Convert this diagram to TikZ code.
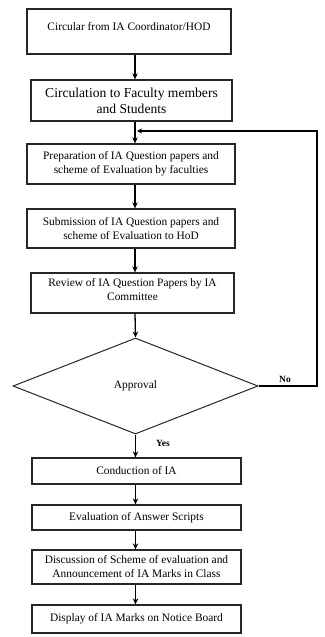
\documentclass[tikz,border=0pt]{standalone}
\usepackage{fontspec}
\setmainfont{Liberation Serif}
\usetikzlibrary{shapes.geometric,arrows.meta}
\begin{document}
\begin{tikzpicture}[x=1pt,y=-1pt,
  box/.style={draw=black!85, line width=1.3pt, rectangle, align=center, inner sep=1pt,
    font=\fontsize{11.4}{14}\selectfont},
  txt/.style={align=center, inner sep=0pt, font=\fontsize{11.4}{14}\selectfont},
  arr/.style={-{Stealth[length=6pt,width=5.5pt]}, line width=1.3pt},
  fbarr/.style={-{Stealth[length=5pt,width=5pt]}, line width=1.1pt},
  lbl/.style={inner sep=0pt, font=\fontsize{9.5}{11}\selectfont\bfseries}]
\useasboundingbox (0,0) rectangle (324,637);
\coordinate (ax) at (135,0);
% boxes
\node[box, minimum width=204pt, minimum height=45pt] (b1) at (129,31.5) {};
\node[txt] (t1) at (129,27) {Circular from IA Coordinator/HOD};
\node[box, minimum width=201pt, minimum height=41pt, font=\fontsize{13.6}{16}\selectfont] (b2) at (131.5,100.5)
  {Circulation to Faculty members\\and Students};
\node[box, minimum width=208pt, minimum height=40pt] (b3) at (131,164)
  {Preparation of IA Question papers and\\scheme of Evaluation by faculties};
\node[box, minimum width=208pt, minimum height=39pt] (b4) at (131,228.5)
  {Submission of IA Question papers and\\scheme of Evaluation to HoD};
\node[box, minimum width=203pt, minimum height=40pt] (b5) at (132.5,293) {};
\node[txt] (t5) at (132.5,290) {Review of IA Question Papers by IA\\Committee};
\node[draw=black!85, line width=1pt, diamond, inner sep=0pt, minimum width=245pt, minimum height=96pt,
  font=\fontsize{11.4}{14}\selectfont] (dia) at (135.5,386) {Approval};
\node[box, minimum width=209pt, minimum height=26pt] (b6) at (136.5,471) {Conduction of IA};
\node[box, minimum width=209pt, minimum height=25pt] (b7) at (136.5,517.5) {Evaluation of Answer Scripts};
\node[box, minimum width=209pt, minimum height=34pt] (b8) at (136.5,567)
  {Discussion of Scheme of evaluation and\\Announcement of IA Marks in Class};
\node[box, minimum width=209pt, minimum height=28pt] (b9) at (136.5,619) {Display of IA Marks on Notice Board};
% arrows
\draw[arr] (b1.south -| ax) -- (b2.north -| ax);
\draw[arr] (b2.south -| ax) -- (b3.north -| ax);
\draw[arr] (b3.south -| ax) -- (b4.north -| ax);
\draw[arr] (b4.south -| ax) -- (b5.north -| ax);
\draw[arr] (b5.south -| ax) -- (dia.north);
\draw[arr] (dia.south) -- (b6.north -| dia.south);
\draw[arr] (b6.south -| dia.south) -- (b7.north -| dia.south);
\draw[arr] (b7.south -| dia.south) -- (b8.north -| dia.south);
\draw[arr] (b8.south -| dia.south) -- (b9.north -| dia.south);
% feedback
\coordinate (fbc) at (317,131);
\coordinate (fbe) at (137,131);
\draw[fbarr] (dia.east) -| (fbc) -- (fbe);
\node[lbl] (no) at (285,379) {No};
\node[lbl] (yes) at (163,443) {Yes};
\end{tikzpicture}
\end{document}
